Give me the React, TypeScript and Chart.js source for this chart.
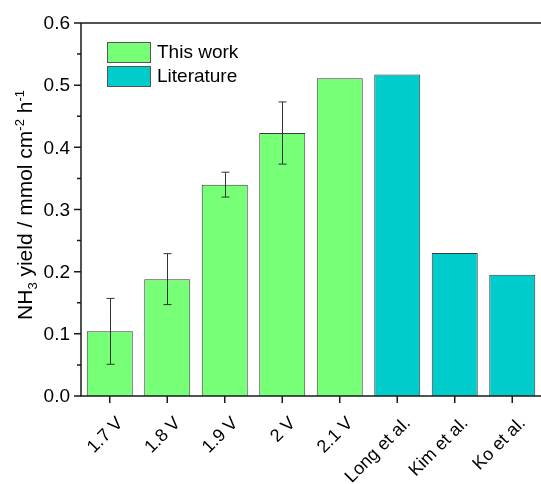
import React, { useEffect, useRef } from "react";
import { Chart, registerables } from "chart.js";
Chart.register(...registerables);

const categories = ["1.7 V", "1.8 V", "1.9 V", "2 V", "2.1 V", "Long et al.", "Kim et al.", "Ko et al."];
const values = [0.104, 0.188, 0.340, 0.423, 0.511, 0.517, 0.230, 0.195];
const errors = [0.053, 0.041, 0.020, 0.050, 0, 0, 0, 0];
const groups = [0, 0, 0, 0, 0, 1, 1, 1];
const groupLabels = ["This work", "Literature"];
const groupColors = ["#77FF77", "#00CCCC"];
const yTicksMajor = [0, 0.1, 0.2, 0.3, 0.4, 0.5, 0.6];
const yTicksMinor = [0.05, 0.15, 0.25, 0.35, 0.45, 0.55];

const FONT = "'Liberation Sans', Arial, sans-serif";
const AXIS_COLOR = "#1a1a1a";

const customPlugin = {
  id: "custom",
  afterDatasetsDraw(chart: any) {
    const ctx = chart.ctx;
    const meta = chart.getDatasetMeta(0);
    const y = chart.scales.y;
    ctx.save();
    ctx.strokeStyle = "#333";
    ctx.lineWidth = 1;
    meta.data.forEach((bar: any, i: number) => {
      const e = errors[i];
      if (!e) return;
      const x = Math.round(bar.x) + 0.5;
      const yt = y.getPixelForValue(values[i] + e);
      const yb = y.getPixelForValue(values[i] - e);
      ctx.beginPath();
      ctx.moveTo(x, yt);
      ctx.lineTo(x, yb);
      ctx.moveTo(x - 4, yt);
      ctx.lineTo(x + 4, yt);
      ctx.moveTo(x - 4, yb);
      ctx.lineTo(x + 4, yb);
      ctx.stroke();
    });
    ctx.restore();
  },
  afterDraw(chart: any) {
    const ctx = chart.ctx;
    const area = chart.chartArea;
    const y = chart.scales.y;
    const x = chart.scales.x;
    ctx.save();
    // axes frame (left, bottom, top)
    ctx.strokeStyle = AXIS_COLOR;
    ctx.lineWidth = 1.5;
    ctx.beginPath();
    ctx.moveTo(area.left, area.top);
    ctx.lineTo(area.right, area.top);
    ctx.moveTo(area.left, area.top);
    ctx.lineTo(area.left, area.bottom);
    ctx.lineTo(area.right, area.bottom);
    ctx.stroke();
    // y ticks
    ctx.lineWidth = 1.5;
    ctx.beginPath();
    yTicksMajor.forEach((v) => {
      const py = y.getPixelForValue(v);
      ctx.moveTo(area.left - 7, py);
      ctx.lineTo(area.left, py);
    });
    yTicksMinor.forEach((v) => {
      const py = y.getPixelForValue(v);
      ctx.moveTo(area.left - 4, py);
      ctx.lineTo(area.left, py);
    });
    // x ticks
    categories.forEach((_, i) => {
      const px = x.getPixelForValue(i);
      ctx.moveTo(px, area.bottom);
      ctx.lineTo(px, area.bottom + 7);
    });
    ctx.stroke();
    // y tick labels
    ctx.fillStyle = "#000";
    ctx.font = `19px ${FONT}`;
    ctx.textAlign = "right";
    ctx.textBaseline = "middle";
    yTicksMajor.forEach((v) => {
      ctx.fillText(v.toFixed(1), area.left - 11, y.getPixelForValue(v) + 1);
    });
    // x tick labels rotated
    ctx.font = `18px ${FONT}`;
    ctx.textAlign = "right";
    ctx.textBaseline = "alphabetic";
    categories.forEach((lab, i) => {
      const px = x.getPixelForValue(i);
      ctx.save();
      ctx.translate(px + 14, area.bottom + 28);
      ctx.rotate(-Math.PI / 4);
      ctx.fillText(lab, 0, 0);
      ctx.restore();
    });
    // legend
    const lx = 107, ly = 42, bw = 43, bh = 20, gap = 24;
    groupLabels.forEach((lab, gi) => {
      const top = ly + gi * gap;
      ctx.fillStyle = groupColors[gi];
      ctx.fillRect(lx, top, bw, bh);
      ctx.strokeStyle = "#555";
      ctx.lineWidth = 1;
      ctx.strokeRect(lx + 0.5, top + 0.5, bw, bh);
      ctx.fillStyle = "#000";
      ctx.font = `19px ${FONT}`;
      ctx.textAlign = "left";
      ctx.textBaseline = "middle";
      ctx.fillText(lab, lx + bw + 7, top + bh / 2 + 1);
    });
    // y-axis title with sub/superscripts
    const segs = [
      { t: "NH", k: 0 },
      { t: "3", k: -1 },
      { t: " yield / mmol cm", k: 0 },
      { t: "-2", k: 1 },
      { t: " h", k: 0 },
      { t: "-1", k: 1 },
    ];
    const mainFont = `21px ${FONT}`;
    const smallFont = `13px ${FONT}`;
    let total = 0;
    segs.forEach((s) => {
      ctx.font = s.k === 0 ? mainFont : smallFont;
      total += ctx.measureText(s.t).width;
    });
    ctx.translate(32, 205);
    ctx.rotate(-Math.PI / 2);
    ctx.textAlign = "left";
    ctx.textBaseline = "alphabetic";
    ctx.fillStyle = "#000";
    let cx = -total / 2;
    segs.forEach((s) => {
      ctx.font = s.k === 0 ? mainFont : smallFont;
      const dy = s.k === -1 ? 5 : s.k === 1 ? -8 : 0;
      ctx.fillText(s.t, cx, dy);
      cx += ctx.measureText(s.t).width;
    });
    ctx.restore();
  },
};

export default function App() {
  const ref = useRef<HTMLCanvasElement>(null);
  useEffect(() => {
    if (!ref.current) return;
    const chart = new Chart(ref.current, {
      type: "bar",
      data: {
        labels: categories,
        datasets: [
          {
            data: values,
            backgroundColor: groups.map((g) => groupColors[g]),
            borderColor: "#3a3a3a",
            borderWidth: 1,
            barPercentage: 0.8,
            categoryPercentage: 1,
          },
        ],
      },
      options: {
        animation: false,
        responsive: false,
        layout: { padding: { left: 0, right: 0, top: 23, bottom: 0 } },
        plugins: { legend: { display: false }, tooltip: { enabled: false } },
        scales: {
          x: {
            grid: { display: false },
            border: { display: false },
            ticks: { display: false },
            afterFit: (s: any) => {
              s.height = 88;
            },
          },
          y: {
            min: 0,
            max: 0.6,
            grid: { display: false },
            border: { display: false },
            ticks: { display: false, stepSize: 0.1 },
            afterFit: (s: any) => {
              s.width = 81;
            },
          },
        },
      },
      plugins: [customPlugin],
    });
    return () => chart.destroy();
  }, []);
  return (
    <div style={{ position: "fixed", left: 0, top: 0, width: 541, height: 484, background: "#fff" }}>
      <canvas ref={ref} width={541} height={484} />
    </div>
  );
}
